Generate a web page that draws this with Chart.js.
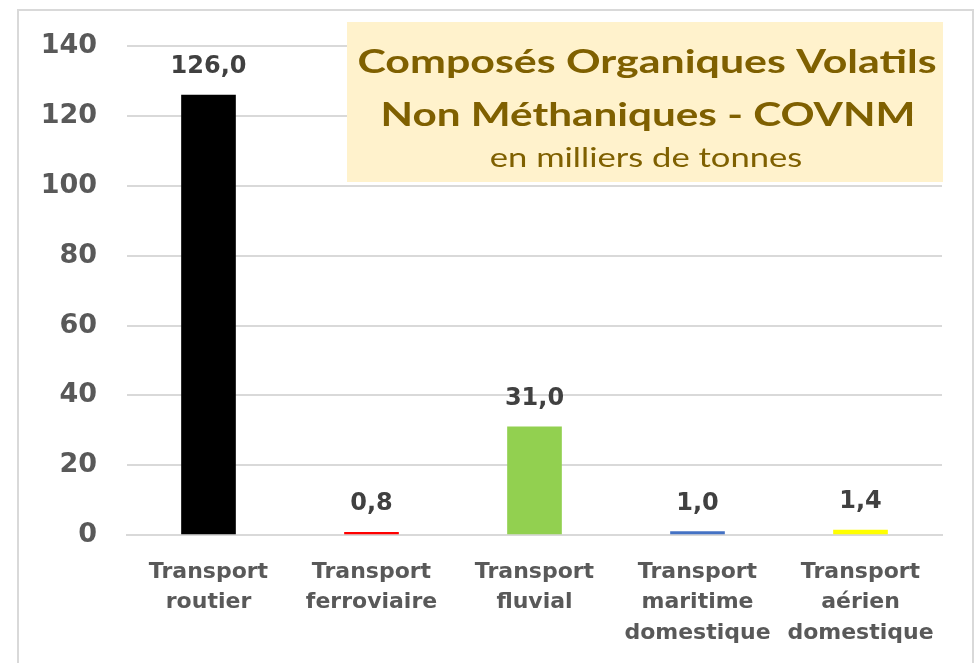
<!DOCTYPE html>
<html>
<head>
<meta charset="utf-8">
<script src="https://cdn.jsdelivr.net/npm/chart.js@4"></script>
<style>
  html, body { margin: 0; padding: 0; background: #fff; }
  #wrap { position: relative; width: 975px; height: 663px; }
</style>
</head>
<body>
<div id="wrap"><canvas id="myChart" width="975" height="663"></canvas></div>
<script>
const categories = [
  ['Transport', 'routier'],
  ['Transport', 'ferroviaire'],
  ['Transport', 'fluvial'],
  ['Transport', 'maritime', 'domestique'],
  ['Transport', 'aérien', 'domestique']
];
const values = [126.0, 0.8, 31.0, 1.0, 1.4];
const barColors = ['#000000', '#FF0000', '#92D050', '#4472C4', '#FFFF00'];
const yTicks = [0, 20, 40, 60, 80, 100, 120, 140];
const titleLines = ['Composés Organiques Volatils', 'Non Méthaniques - COVNM'];
const subtitle = 'en milliers de tonnes';

const frame = {
  id: 'frame',
  beforeDraw(chart) {
    const ctx = chart.ctx;
    ctx.save();
    ctx.strokeStyle = '#D9D9D9';
    ctx.lineWidth = 2;
    ctx.strokeRect(18, 10, 955, 680);
    ctx.restore();
  }
};

// title text in the reference looks stretched sideways, so squash/stretch x
function wideText(ctx, text, cx, y, sx) {
  ctx.save();
  ctx.translate(cx, y);
  ctx.scale(sx, 1);
  ctx.fillText(text, 0, 0);
  ctx.restore();
}

const titleBox = {
  id: 'titleBox',
  beforeDatasetsDraw(chart) {
    const ctx = chart.ctx;
    ctx.save();
    ctx.fillStyle = '#FFF2CC';
    ctx.fillRect(347, 22, 596, 160);
    ctx.fillStyle = '#7F6000';
    ctx.textAlign = 'center';
    ctx.textBaseline = 'alphabetic';
    ctx.font = 'bold 33px Lato';
    wideText(ctx, titleLines[0], 647, 73, 1.3);
    wideText(ctx, titleLines[1], 648, 126, 1.28);
    ctx.font = '26px Lato';
    wideText(ctx, subtitle, 646, 167, 1.33);
    ctx.restore();
  }
};

const valueLabels = {
  id: 'valueLabels',
  afterDatasetsDraw(chart) {
    const ctx = chart.ctx;
    const meta = chart.getDatasetMeta(0);
    ctx.save();
    ctx.fillStyle = '#404040';
    ctx.font = 'bold 24px "DejaVu Sans"';
    ctx.textAlign = 'center';
    ctx.textBaseline = 'alphabetic';
    meta.data.forEach((bar, i) => {
      ctx.fillText(values[i].toFixed(1).replace('.', ','), bar.x, bar.y - 22);
    });
    ctx.restore();
  }
};

const ctx = document.getElementById('myChart').getContext('2d');
new Chart(ctx, {
  type: 'bar',
  data: {
    labels: categories,
    datasets: [{
      data: values,
      backgroundColor: barColors,
      borderWidth: 0,
      barThickness: 54
    }]
  },
  options: {
    responsive: false,
    animation: false,
    layout: { padding: { top: 41, right: 33, left: 0, bottom: 0 } },
    plugins: { legend: { display: false }, tooltip: { enabled: false } },
    scales: {
      x: {
        grid: { display: false, drawTicks: false },
        border: { display: true, color: '#D9D9D9', width: 2 },
        ticks: {
          color: '#595959',
          font: { family: 'DejaVu Sans', size: 22, weight: 'bold', lineHeight: 1.38 },
          padding: 22,
          maxRotation: 0
        },
        afterFit(axis) { axis.height = 128; }
      },
      y: {
        min: 0,
        max: 140,
        afterBuildTicks(axis) { axis.ticks = yTicks.map(v => ({ value: v })); },
        grid: { color: '#D9D9D9', lineWidth: 2, drawTicks: false },
        border: { display: false },
        ticks: {
          color: '#595959',
          font: { family: 'DejaVu Sans', size: 27, weight: 'bold' },
          padding: 30
        },
        afterFit(axis) { axis.width = 127; }
      }
    }
  },
  plugins: [frame, titleBox, valueLabels]
});
</script>
</body>
</html>
